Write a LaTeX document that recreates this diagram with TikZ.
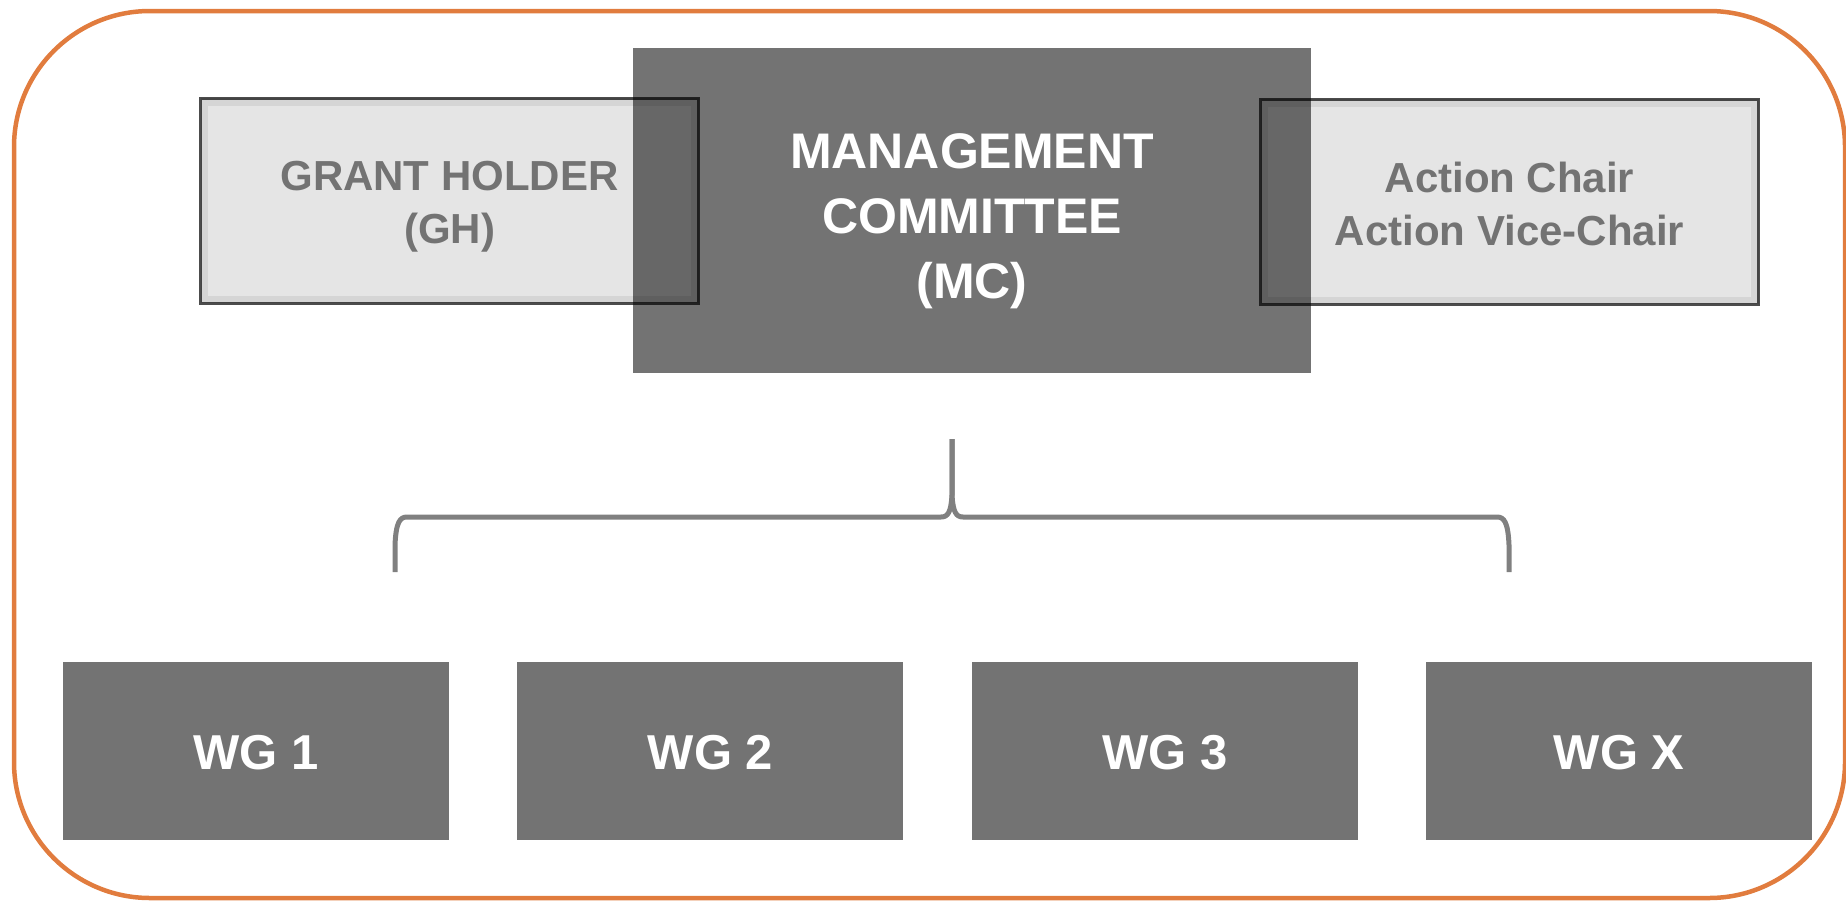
\documentclass[tikz,border=0pt]{standalone}
\usepackage{fontspec}
\setmainfont{Liberation Sans}
\usepackage{tikz}
\usetikzlibrary{positioning}
\definecolor{boxgray}{RGB}{115,115,115}
\definecolor{linegray}{RGB}{128,128,128}
\definecolor{framebrown}{RGB}{225,124,62}

\begin{document}
\begin{tikzpicture}[x=1pt, y=-1pt,
    darkbox/.style={rectangle, fill=boxgray, text=white, inner sep=0pt, align=center},
    lightbox/.style={rectangle, draw=black, draw opacity=0.7, line width=3pt, fill=black, fill opacity=0.1, text opacity=1, text=boxgray, inner sep=0pt, align=center, minimum width=498pt, minimum height=205pt, font=\fontsize{42}{53}\selectfont\bfseries},
    wgbox/.style={darkbox, minimum width=386pt, minimum height=178pt, font=\fontsize{49}{58}\selectfont\bfseries},
    innerbevel/.style={draw=black, draw opacity=0.07, line width=6pt},
    mcbrace/.style={draw=linegray, line width=5pt, line join=round},
    outerframe/.style={draw=framebrown, line width=4.5pt, rounded corners=136pt}]
    \useasboundingbox (0,0) rectangle (1846,900);
    \draw[outerframe] (14,11) rectangle (1845,898);
    % top row
    \node[darkbox, minimum width=678pt, minimum height=325pt, font=\fontsize{50}{65}\selectfont\bfseries] (mc) at (972,210.5) {\rule{0pt}{56pt}MANAGEMENT\\COMMITTEE\\(MC)};
    \node[lightbox] (gh) at (449.5,200.5) {\rule{0pt}{41pt}GRANT HOLDER\\(GH)};
    \node[lightbox] (chair) at (1509.5,201.5) {\rule{0pt}{36pt}Action Chair\\Action Vice-Chair};
    \draw[innerbevel] ([shift={(6pt,-6pt)}]gh.north west) rectangle ([shift={(-6pt,6pt)}]gh.south east);
    \draw[innerbevel] ([shift={(6pt,-6pt)}]chair.north west) rectangle ([shift={(-6pt,6pt)}]chair.south east);
    % brace
    \coordinate (brtop) at (952,439);
    \coordinate (brleft) at (395,572);
    \coordinate (brright) at (1509,572);
    \draw[mcbrace] (brtop) -- (952,495) .. controls (951,512) and (948,517) .. (941,517) -- (407,517) .. controls (400,517) and (396,522) .. (395,545) -- (brleft);
    \draw[mcbrace] (brtop) -- (952,495) .. controls (953,512) and (956,517) .. (963,517) -- (1497,517) .. controls (1504,517) and (1508,522) .. (1509,545) -- (brright);
    % working groups
    \node[wgbox] (wg1) at (256,751) {\rule{0pt}{38pt}WG 1};
    \node[wgbox] (wg2) [right=68pt of wg1] {\rule{0pt}{38pt}WG 2};
    \node[wgbox] (wg3) [right=68pt of wg2] {\rule{0pt}{38pt}WG 3};
    \node[wgbox] (wgx) [right=68pt of wg3] {\rule{0pt}{38pt}WG X};
\end{tikzpicture}
\end{document}
